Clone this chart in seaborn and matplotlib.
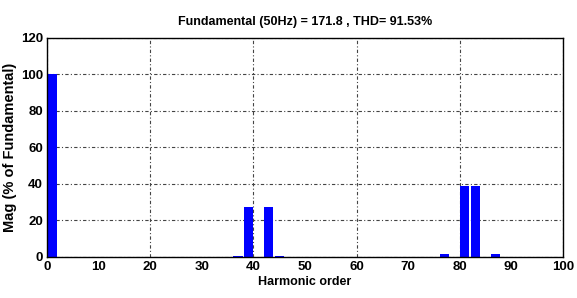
import numpy as np
import pandas as pd
import seaborn as sns
import matplotlib.pyplot as plt

# harmonic spectrum values
harmonic = [1, 37, 39, 43, 45, 77, 81, 83, 87]
magnitude = [100, 0.8, 27.5, 27.5, 0.8, 1.5, 39, 39, 1.5]

title = 'Fundamental (50Hz) = 171.8 , THD= 91.53%'

df = pd.DataFrame({'Harmonic order': harmonic, 'Mag': magnitude})

sns.set_style('white')
plt.rcParams['font.family'] = ['Liberation Sans', 'DejaVu Sans']
plt.rcParams['text.color'] = 'black'
plt.rcParams['axes.labelcolor'] = 'black'
plt.rcParams['xtick.color'] = 'black'
plt.rcParams['ytick.color'] = 'black'

fig = plt.figure(figsize=(5.77, 2.98), dpi=100)
ax = fig.add_axes([0.0815, 0.1376, 0.894, 0.735])

sns.barplot(data=df, x='Harmonic order', y='Mag', native_scale=True,
            color='#0000ff', saturation=1, width=0.9, ax=ax, edgecolor='none')

ax.set_xlim(0, 100)
ax.set_ylim(0, 120)
ax.set_xticks(range(0, 101, 20))
ax.set_xticks(range(10, 100, 20), labels=[str(v) for v in range(10, 100, 20)], minor=True)
ax.set_yticks(range(0, 121, 20))
ax.grid(True, which='major', color='#444444', linestyle=(0, (3, 2, 1, 2)), linewidth=0.8)
ax.set_axisbelow(True)
for s in ax.spines.values():
    s.set_color('black')
    s.set_linewidth(1)
ax.tick_params(axis='both', which='both', labelsize=9.5, length=0, pad=3)
for lab in ax.get_xticklabels() + ax.get_yticklabels() + ax.get_xticklabels(minor=True):
    lab.set_fontweight('bold')

ax.set_xlabel('Harmonic order', fontsize=9, fontweight='bold', labelpad=2)
ax.set_ylabel('Mag (% of Fundamental)', fontsize=10.5, fontweight='bold', labelpad=3)
ax.set_title(title, fontsize=9, fontweight='bold', pad=9)

fig.savefig('out.png', dpi=100)
